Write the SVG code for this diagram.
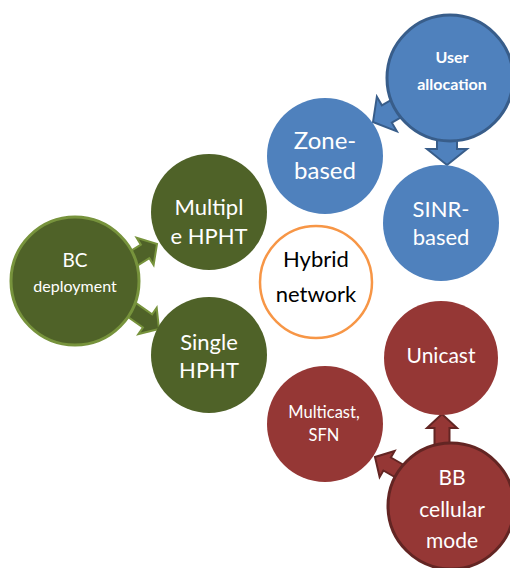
<svg xmlns="http://www.w3.org/2000/svg" width="510" height="568" viewBox="0 0 510 568">
  <style>
    .lbl { font-family: Lato, "Open Sans", "Liberation Sans", sans-serif; fill: #ffffff; text-anchor: middle; }
    .dark { fill: #000000; }
    .bold { font-weight: bold; }
    .blue { fill: #4f81bd; }
    .green { fill: #4f6228; }
    .red { fill: #953735; }
    .arrow-blue { fill: #4f81bd; stroke: #385d8a; stroke-width: 2; stroke-linejoin: miter; }
    .arrow-green { fill: #4f6228; stroke: #77933c; stroke-width: 2; stroke-linejoin: miter; }
    .arrow-red { fill: #953735; stroke: #632523; stroke-width: 2; stroke-linejoin: miter; }
  </style>
  <defs>
    <!-- block arrows, tip at origin pointing along +x -->
    <polygon id="arrowBig" points="0,0 -16,-20 -16,-10 -42,-10 -42,10 -16,10 -16,20"/>
    <polygon id="arrowMid" points="0,0 -14,-16 -14,-8 -40,-8 -40,8 -14,8 -14,16"/>
    <polygon id="arrowSmall" points="0,0 -14,-15 -14,-7.5 -36,-7.5 -36,7.5 -14,7.5 -14,15"/>
  </defs>
  <rect width="510" height="568" fill="#ffffff"/>

  <g id="connectors">
    <use href="#arrowBig" class="arrow-blue" transform="translate(373,122) rotate(150)"/>
    <use href="#arrowBig" class="arrow-blue" transform="translate(447,165) rotate(90)"/>
    <use href="#arrowMid" class="arrow-green" transform="translate(157,244) rotate(-32)"/>
    <use href="#arrowMid" class="arrow-green" transform="translate(159,329) rotate(35)"/>
    <use href="#arrowSmall" class="arrow-red" transform="translate(442,414) rotate(-90)"/>
    <use href="#arrowSmall" class="arrow-red" transform="translate(375,457) rotate(210)"/>
  </g>

  <g id="hybrid-network">
    <circle cx="316" cy="282" r="56" fill="#ffffff" stroke="#f79646" stroke-width="2.5"/>
    <text class="lbl dark" x="316" y="267" font-size="22">Hybrid</text>
    <text class="lbl dark" x="316" y="302" font-size="22">network</text>
  </g>

  <g id="zone-based">
    <circle class="blue" cx="325" cy="156" r="58"/>
    <text class="lbl" x="325" y="149" font-size="24">Zone-</text>
    <text class="lbl" x="325" y="179" font-size="24">based</text>
  </g>

  <g id="sinr-based">
    <circle class="blue" cx="441" cy="223" r="58"/>
    <text class="lbl" x="441" y="217" font-size="22">SINR-</text>
    <text class="lbl" x="441" y="245" font-size="22">based</text>
  </g>

  <g id="user-allocation">
    <circle class="blue" cx="450" cy="78" r="63" stroke="#385d8a" stroke-width="3"/>
    <text class="lbl bold" x="452" y="63" font-size="16">User</text>
    <text class="lbl bold" x="452" y="90" font-size="16">allocation</text>
  </g>

  <g id="multiple-hpht">
    <circle class="green" cx="209" cy="212" r="58"/>
    <text class="lbl" x="209" y="215" font-size="22">Multipl</text>
    <text class="lbl" x="209" y="244" font-size="22">e HPHT</text>
  </g>

  <g id="single-hpht">
    <circle class="green" cx="209" cy="355" r="58"/>
    <text class="lbl" x="209" y="350" font-size="22">Single</text>
    <text class="lbl" x="209" y="378" font-size="22">HPHT</text>
  </g>

  <g id="bc-deployment">
    <circle class="green" cx="75" cy="281" r="64" stroke="#77933c" stroke-width="3"/>
    <text class="lbl" x="75" y="267" font-size="19">BC</text>
    <text class="lbl" x="75" y="292" font-size="16">deployment</text>
  </g>

  <g id="unicast">
    <circle class="red" cx="441" cy="358" r="57"/>
    <text class="lbl" x="441" y="363" font-size="21">Unicast</text>
  </g>

  <g id="multicast-sfn">
    <circle class="red" cx="325" cy="424" r="58"/>
    <text class="lbl" x="324" y="418" font-size="16.5">Multicast,</text>
    <text class="lbl" x="324" y="441" font-size="16.5">SFN</text>
  </g>

  <g id="bb-cellular-mode">
    <circle class="red" cx="451" cy="506" r="63" stroke="#632523" stroke-width="3"/>
    <text class="lbl" x="452" y="485" font-size="21">BB</text>
    <text class="lbl" x="452" y="517" font-size="21">cellular</text>
    <text class="lbl" x="452" y="548" font-size="21">mode</text>
  </g>
</svg>
